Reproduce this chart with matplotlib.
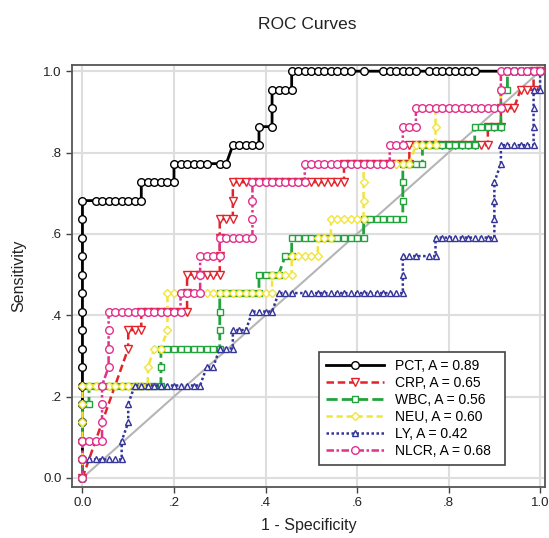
import numpy as np
import matplotlib
matplotlib.use('Agg')
import matplotlib.pyplot as plt

plt.rcParams['font.family'] = ['Liberation Sans', 'DejaVu Sans']

# ROC points, in counts of negatives / positives
N_NEG = 70.0
N_POS = 22.0

PCT = [(0,0),(0,1),(0,2),(0,3),(0,4),(0,5),(0,6),(0,7),(0,8),(0,9),(0,10),(0,11),(0,12),(0,13),(0,14),(0,15),
       (2,15),(3,15),(4,15),(5,15),(6,15),(7,15),(8,15),(9,15),
       (9,16),(10,16),(11,16),(12,16),(13,16),(14,16),
       (14,17),(15,17),(16,17),(17,17),(18,17),(19,17),(21,17),(22,17),
       (23,18),(24,18),(25,18),(26,18),(27,18),
       (27,19),(29,19),(29,20),(29,21),(30,21),(31,21),(32,21),
       (32,22),(33,22),(34,22),(35,22),(36,22),(37,22),(38,22),(39,22),(40,22),(41,22),(43,22),
       (46,22),(47,22),(48,22),(49,22),(50,22),(51,22),(53,22),(54,22),(55,22),(56,22),(57,22),
       (58,22),(59,22),(60,22),(65,22),(66,22),(67,22),(68,22),(69,22),(70,22)]

CRP = [(0,0),(7,7),(7,8),(8,8),(9,8),(9,9),(10,9),(11,9),(12,9),(13,9),(14,9),(15,9),(16,9),
       (16,10),(16,11),(17,11),(18,11),(19,11),(20,11),(21,11),
       (21,12),(21,13),(21,14),(22,14),(23,14),
       (23,15),(23,16),(24,16),(25,16),(26,16),(27,16),(28,16),(29,16),(30,16),(31,16),(32,16),
       (33,16),(34,16),(35,16),(36,16),(37,16),(38,16),(39,16),(40,16),
       (40,17),(41,17),(42,17),(43,17),(44,17),(45,17),(46,17),(47,17),(48,17),(49,17),(50,17),
       (50,18),(51,18),(52,18),(53,18),(54,18),(55,18),(56,18),(57,18),(58,18),(59,18),(60,18),(61,18),(62,18),
       (62,19),(63,19),(64,19),(64,20),(65,20),(66,20),
       (67,21),(68,21),(69,21),(69,22),(70,22)]

WBC = [(0,0),(0,1),(0,2),(0,3),(0,4),(1,4),(1,5),(2,5),(3,5),(4,5),(5,5),(6,5),(7,5),(8,5),(9,5),(10,5),(11,5),(12,5),
       (12,6),(12,7),(13,7),(14,7),(15,7),(16,7),(17,7),(18,7),(19,7),(20,7),(21,7),
       (21,8),(21,9),(21,10),(22,10),(23,10),(24,10),(25,10),(26,10),(27,10),
       (27,11),(28,11),(29,11),(30,11),(31,12),(32,12),
       (32,13),(33,13),(34,13),(35,13),(36,13),(37,13),(38,13),(39,13),(40,13),(41,13),(42,13),(43,13),
       (43,14),(44,14),(45,14),(46,14),(47,14),(48,14),(49,14),
       (49,15),(49,16),(49,17),(50,17),(51,17),(52,17),
       (52,18),(53,18),(54,18),(55,18),(56,18),(57,18),(58,18),(59,18),(60,18),
       (60,19),(61,19),(62,19),(63,19),(64,19),(64,20),(64,21),(65,21),
       (65,22),(66,22),(67,22),(68,22),(69,22),(70,22)]

NEU = [(0,0),(0,1),(0,2),(0,3),(0,4),(0,5),(1,5),(2,5),(3,5),(4,5),(5,5),(6,5),(7,5),(8,5),(9,5),(10,5),
       (10,6),(11,7),(12,7),(13,8),(13,9),(13,10),
       (14,10),(15,10),(16,10),(17,10),(18,10),(19,10),(20,10),(21,10),(22,10),(23,10),(24,10),(25,10),
       (26,10),(27,10),(28,10),(29,10),
       (29,11),(30,11),(31,11),(32,11),(32,12),(33,12),(34,12),(35,12),(36,12),
       (36,13),(37,13),(38,13),(38,14),(39,14),(40,14),(41,14),(42,14),(43,14),
       (43,15),(43,16),(43,17),(44,17),(45,17),(46,17),(47,17),(48,17),(49,17),(50,17),
       (51,18),(52,18),(53,18),(54,18),(54,19),(54,20),
       (55,20),(56,20),(57,20),(58,20),(59,20),(60,20),(61,20),(62,20),(63,20),(64,20),
       (64,21),(64,22),(65,22),(66,22),(67,22),(68,22),(69,22),(70,22)]

LY = [(0,0),(0,1),(1,1),(2,1),(3,1),(4,1),(5,1),(6,1),(6,2),(7,3),(7,4),(8,5),
      (9,5),(10,5),(11,5),(12,5),(13,5),(14,5),(15,5),(16,5),(17,5),(18,5),
      (19,6),(20,6),(21,7),(22,7),(23,7),(23,8),(24,8),(25,8),
      (26,9),(27,9),(28,9),(29,9),
      (30,10),(31,10),(32,10),(34,10),(35,10),(36,10),(37,10),(38,10),(39,10),(40,10),(41,10),
      (42,10),(43,10),(44,10),(45,10),(46,10),(47,10),(48,10),(49,10),
      (49,11),(49,12),(50,12),(51,12),(53,12),(54,12),
      (54,13),(55,13),(56,13),(57,13),(58,13),(59,13),(60,13),(61,13),(62,13),(63,13),
      (63,14),(63,15),(63,16),(64,17),(64,18),(65,18),(66,18),(67,18),(68,18),(69,18),
      (69,19),(69,20),(69,21),(70,21),(70,22)]

NLCR = [(0,0),(0,1),(0,2),(1,2),(2,2),(3,2),(3,3),(3,4),(3,5),(4,6),(4,7),(4,8),(4,9),
        (5,9),(6,9),(7,9),(8,9),(9,9),(10,9),(11,9),(12,9),(13,9),(14,9),(15,9),
        (15,10),(16,10),(17,10),(18,10),(18,11),(18,12),(19,12),(20,12),(21,12),
        (21,13),(22,13),(23,13),(24,13),(25,13),(26,13),
        (26,14),(26,15),(26,16),(27,16),(28,16),(29,16),(30,16),(31,16),(32,16),(33,16),(34,16),
        (34,17),(35,17),(36,17),(37,17),(38,17),(39,17),(40,17),(41,17),(42,17),(43,17),(44,17),
        (45,17),(46,17),(47,17),
        (47,18),(48,18),(49,18),(49,19),(50,19),(51,19),
        (51,20),(52,20),(53,20),(54,20),(55,20),(56,20),(57,20),(58,20),(59,20),(60,20),(61,20),
        (62,20),(63,20),(64,20),
        (64,21),(64,22),(65,22),(66,22),(67,22),(68,22),(69,22),(70,22)]

names = ['PCT', 'CRP', 'WBC', 'NEU', 'LY', 'NLCR']
areas = [0.89, 0.65, 0.56, 0.60, 0.42, 0.68]
curves = [PCT, CRP, WBC, NEU, LY, NLCR]
colors = ['black', '#e4222a', '#23a33c', '#f2e53a', '#34349a', '#e0318c']
markers = ['o', 'v', 's', 'D', '^', 'o']
msizes = [5.5, 5.5, 5.0, 4.5, 5.0, 5.5]
dashes = [None, (3, 1.5), (4, 1.5), (2.5, 1.5), (1, 1), (3, 1, 1, 1)]
widths = [2.0, 1.8, 2.0, 1.8, 1.8, 1.8]

fig = plt.figure(figsize=(5.49, 5.38), dpi=100)
ax = fig.add_axes([0.131, 0.095, 0.862, 0.784])

ticks = [0.0, 0.2, 0.4, 0.6, 0.8, 1.0]
ticklabels = ['0.0', '.2', '.4', '.6', '.8', '1.0']
for t in ticks:
    ax.axvline(t, color='#dedede', lw=1.5, zorder=0)
    ax.axhline(t, color='#dedede', lw=1.5, zorder=0)

ax.plot([0, 1], [0, 1], color='#b5b5b5', lw=1.5, zorder=1)

for k in range(len(curves)):
    pts = np.array(curves[k], dtype=float)
    fpr = pts[:, 0] / N_NEG
    tpr = pts[:, 1] / N_POS
    line, = ax.plot(fpr, tpr, color=colors[k], lw=widths[k], marker=markers[k],
                    markersize=msizes[k], markerfacecolor='white', markeredgecolor=colors[k],
                    markeredgewidth=1.0, label='%s, A = %.2f' % (names[k], areas[k]), zorder=2 + k)
    if dashes[k] is not None:
        line.set_dashes(dashes[k])

ax.set_xlim(-0.023, 1.011)
ax.set_ylim(-0.022, 1.015)
ax.set_xticks(ticks)
ax.set_xticklabels(ticklabels)
ax.set_yticks(ticks)
ax.set_yticklabels(ticklabels)
ax.tick_params(direction='out', length=4, width=1, colors='#444444', labelsize=9.5, labelcolor='#222222')
for s in ax.spines.values():
    s.set_color('#555555')
    s.set_linewidth(1.3)

ax.set_xlabel('1 - Specificity', fontsize=11.5, color='#222222', labelpad=6)
ax.set_ylabel('Sensitivity', fontsize=11.5, color='#222222', labelpad=12)
fig.text(0.56, 0.955, 'ROC Curves', ha='center', va='center', fontsize=12.5, color='#222222')

leg = ax.legend(loc='lower left', bbox_to_anchor=(0.507, 0.036, 0.423, 0.272), mode='expand',
                fontsize=10, handlelength=4.2, labelspacing=0.22, borderpad=0.5,
                fancybox=False, framealpha=1, edgecolor='#444444')
leg.get_frame().set_linewidth(1.2)

plt.savefig('out.png', dpi=100)
plt.close()
